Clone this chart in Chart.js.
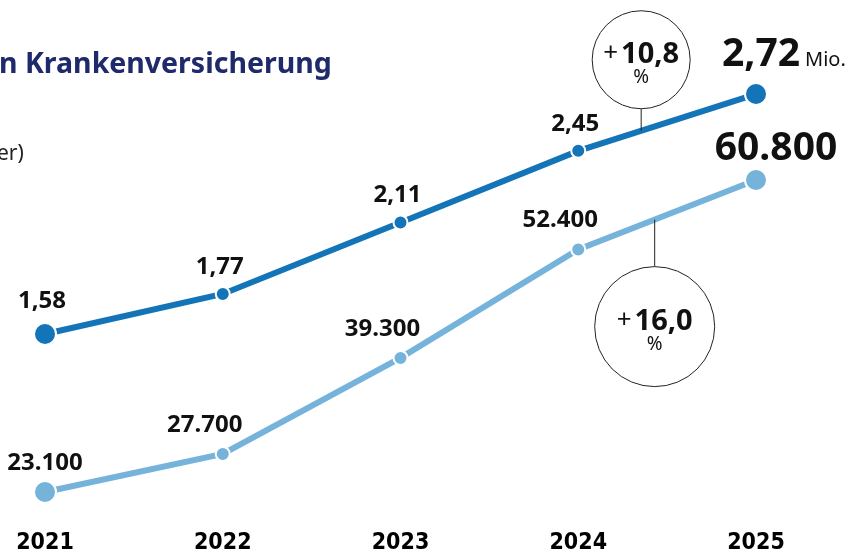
<!DOCTYPE html>
<html>
<head>
<meta charset="utf-8">
<script src="https://cdn.jsdelivr.net/npm/chart.js@4.4.1/dist/chart.umd.min.js"></script>
<style>
  html, body { margin: 0; padding: 0; background: #fff; }
  #wrap { width: 861px; height: 559px; position: relative; }
</style>
</head>
<body>
<div id="wrap"><canvas id="chart" width="861" height="559"></canvas></div>
<script>
// data
const years = ["2021", "2022", "2023", "2024", "2025"];
const insuredMio = [1.58, 1.77, 2.11, 2.45, 2.72];
const insuredLabels = ["1,58", "1,77", "2,11", "2,45", "2,72"];
const supplementary = [23100, 27700, 39300, 52400, 60800];
const supplementaryLabels = ["23.100", "27.700", "39.300", "52.400", "60.800"];
const growthLabels = ["10,8", "16,0"]; // dark line, light line (2024 -> 2025)

const DARK = "#1374b8";
const LIGHT = "#76b3db";
const FONT = "'Noto Sans', 'Open Sans', sans-serif";

const textPlugin = {
    id: "texts",
    afterDatasetsDraw(chart) {
        const ctx = chart.ctx;
        const dark = chart.getDatasetMeta(0).data;
        const light = chart.getDatasetMeta(1).data;
        ctx.save();

        // title + subtitle (cut off at the left edge in the original)
        ctx.fillStyle = "#1f2a6b";
        ctx.font = "bold 28.5px " + FONT;
        ctx.textAlign = "left";
        ctx.textBaseline = "alphabetic";
        ctx.fillText("n Krankenversicherung", -1, 73);
        ctx.fillStyle = "#222";
        ctx.font = "21px " + FONT;
        ctx.fillText("er)", -3, 160);

        // value labels
        ctx.fillStyle = "#111";
        ctx.textAlign = "center";
        ctx.textBaseline = "middle";
        ctx.font = "bold 24px " + FONT;
        for (let i = 0; i < 4; i++) {
            const p = dark[i];
            ctx.fillText(insuredLabels[i], p.x - 3, p.y - (i === 0 ? 33 : 27));
        }
        for (let i = 0; i < 4; i++) {
            const p = light[i];
            ctx.fillText(supplementaryLabels[i], p.x - (i === 0 ? 0 : 18), p.y - 29);
        }

        // last values, bigger
        ctx.textBaseline = "alphabetic";
        ctx.font = "bold 39px " + FONT;
        const pd = dark[4];
        ctx.fillText(insuredLabels[4], pd.x + 5, pd.y - 28);
        const w272 = ctx.measureText(insuredLabels[4]).width;
        ctx.font = "20px " + FONT;
        ctx.textAlign = "left";
        ctx.fillText("Mio.", pd.x + 5 + w272 / 2 + 5, pd.y - 28);
        ctx.textAlign = "center";
        ctx.font = "bold 39px " + FONT;
        const pl = light[4];
        ctx.fillText(supplementaryLabels[4], pl.x + 20, pl.y - 20);

        // growth bubbles
        drawBubble(ctx, dark[3], dark[4], 0.354, -1, 22, 49, growthLabels[0]);
        drawBubble(ctx, light[3], light[4], 0.43, 1, 47, 60, growthLabels[1]);

        ctx.restore();
    }
};

function drawBubble(ctx, a, b, t, dir, stem, r, label) {
    const ax = a.x + (b.x - a.x) * t;
    const ay = a.y + (b.y - a.y) * t;
    const cy = ay + dir * (stem + r);
    ctx.strokeStyle = "#222";
    ctx.lineWidth = 1;
    ctx.beginPath();
    ctx.moveTo(ax, ay);
    ctx.lineTo(ax, ay + dir * stem);
    ctx.stroke();
    ctx.beginPath();
    ctx.arc(ax, cy, r, 0, Math.PI * 2);
    ctx.fillStyle = "#fff";
    ctx.fill();
    ctx.stroke();

    ctx.fillStyle = "#111";
    ctx.textBaseline = "alphabetic";
    ctx.font = "26px " + FONT;
    const wPlus = ctx.measureText("+").width;
    ctx.font = "bold 29px " + FONT;
    const wNum = ctx.measureText(label).width;
    const x0 = ax - (wPlus + 3 + wNum) / 2;
    ctx.textAlign = "left";
    ctx.font = "26px " + FONT;
    ctx.fillText("+", x0, cy + 1);
    ctx.font = "bold 29px " + FONT;
    ctx.fillText(label, x0 + wPlus + 3, cy + 3);
    ctx.textAlign = "center";
    ctx.textBaseline = "middle";
    ctx.font = "19px " + FONT;
    ctx.fillText("%", ax, cy + 18);
}

new Chart(document.getElementById("chart"), {
    type: "line",
    data: {
        labels: years,
        datasets: [
            {
                label: "Versicherte (Mio.)",
                data: insuredMio,
                yAxisID: "y",
                borderColor: DARK,
                backgroundColor: DARK,
                borderWidth: 6,
                pointRadius: [11, 7, 7, 7, 11],
                pointBackgroundColor: DARK,
                pointBorderColor: "#fff",
                pointBorderWidth: 2,
                tension: 0,
            },
            {
                label: "Anzahl",
                data: supplementary,
                yAxisID: "y1",
                borderColor: LIGHT,
                backgroundColor: LIGHT,
                borderWidth: 6,
                pointRadius: [11, 7, 7, 7, 11],
                pointBackgroundColor: LIGHT,
                pointBorderColor: "#fff",
                pointBorderWidth: 2,
                tension: 0,
            },
        ],
    },
    options: {
        responsive: false,
        animation: false,
        devicePixelRatio: 1,
        layout: { padding: { left: 45, right: 105, top: 0, bottom: 0 } },
        plugins: {
            legend: { display: false },
            tooltip: { enabled: false },
        },
        scales: {
            x: {
                offset: false,
                grid: { display: false, drawTicks: false },
                border: { display: false },
                ticks: {
                    color: "#000",
                    padding: 10,
                    maxRotation: 0,
                    font: { family: "'Liberation Sans Narrow', 'DejaVu Sans Condensed', sans-serif", weight: "bold", size: 23 },
                },
                afterFit: (scale) => { scale.height = 40; },
            },
            y: { display: false, min: 0.701, max: 3.105 },
            y1: { display: false, min: 19838, max: 80978 },
        },
    },
    plugins: [textPlugin],
});
</script>
</body>
</html>
